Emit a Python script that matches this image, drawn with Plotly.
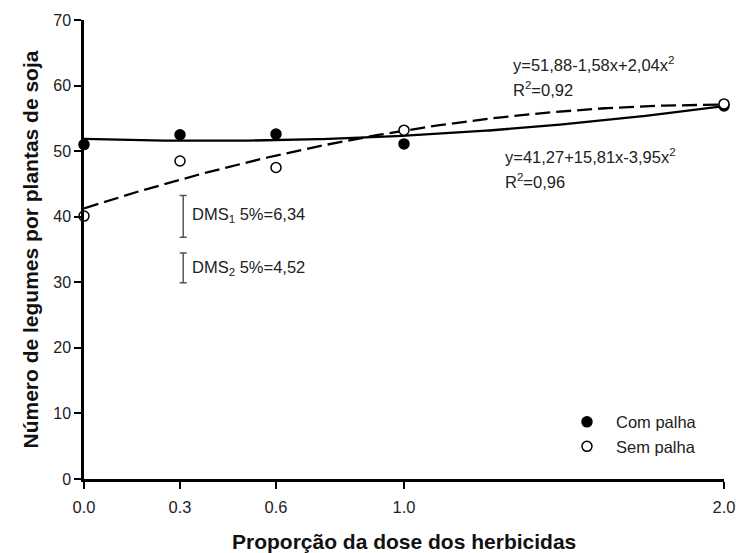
import numpy as np
import plotly.graph_objects as go

# Data
doses = [0.0, 0.3, 0.6, 1.0, 2.0]
com_palha = [51.0, 52.5, 52.6, 51.1, 56.9]
sem_palha = [40.1, 48.5, 47.5, 53.2, 57.2]
tick_vals = [0.0, 0.3, 0.6, 1.0, 2.0]
tick_text = ["0.0", "0.3", "0.6", "1.0", "2.0"]

# Regression coefficients (as shown on the chart)
coef_com = [51.88, -1.58, 2.04]
coef_sem = [41.27, 15.81, -3.95]

# DMS bars (centre, half length)
dms_x = [0.31, 0.31]
dms_center = [40.05, 32.2]
dms_half = [3.17, 2.26]

xs = np.linspace(0, 2, 200)
y_com = coef_com[0] + coef_com[1] * xs + coef_com[2] * xs ** 2
y_sem = coef_sem[0] + coef_sem[1] * xs + coef_sem[2] * xs ** 2

FONT = "Liberation Sans, Arial, sans-serif"

fig = go.Figure()
fig.add_trace(go.Scatter(x=xs, y=y_com, mode="lines", line=dict(color="black", width=2.3),
                         showlegend=False, hoverinfo="skip"))
fig.add_trace(go.Scatter(x=xs, y=y_sem, mode="lines",
                         line=dict(color="black", width=2.3, dash="15px,6px"),
                         showlegend=False, hoverinfo="skip"))
fig.add_trace(go.Scatter(x=dms_x, y=dms_center, mode="markers",
                         marker=dict(size=1, color="rgba(0,0,0,0)"),
                         error_y=dict(type="data", array=dms_half, visible=True,
                                      color="#555555", thickness=1.5, width=3.5),
                         showlegend=False, hoverinfo="skip"))
fig.add_trace(go.Scatter(x=doses, y=com_palha, mode="markers", name="Com palha",
                         marker=dict(size=10, color="black", line=dict(color="black", width=1.5)),
                         cliponaxis=False))
fig.add_trace(go.Scatter(x=doses, y=sem_palha, mode="markers", name="Sem palha",
                         marker=dict(size=10, color="white", line=dict(color="black", width=1.5)),
                         cliponaxis=False))

ann_font = dict(family=FONT, size=16.5, color="#222222")
annotations = [
    dict(x=0.33, y=40.3, text="DMS<sub>1</sub> 5%=6,34", xanchor="left", yanchor="middle", showarrow=False, font=ann_font),
    dict(x=0.33, y=32.2, text="DMS<sub>2</sub> 5%=4,52", xanchor="left", yanchor="middle", showarrow=False, font=ann_font),
    dict(x=1.334, y=63.3, text="y=51,88-1,58x+2,04x<sup>2</sup>", xanchor="left", yanchor="middle", showarrow=False, font=ann_font),
    dict(x=1.334, y=59.5, text="R<sup>2</sup>=0,92", xanchor="left", yanchor="middle", showarrow=False, font=ann_font),
    dict(x=1.309, y=49.3, text="y=41,27+15,81x-3,95x<sup>2</sup>", xanchor="left", yanchor="middle", showarrow=False, font=ann_font),
    dict(x=1.309, y=45.4, text="R<sup>2</sup>=0,96", xanchor="left", yanchor="middle", showarrow=False, font=ann_font),
    dict(x=0.5, xref="paper", y=-62 / 459, yref="paper", yanchor="middle", text="<b>Proporção da dose dos herbicidas</b>",
         showarrow=False, font=dict(family=FONT, size=21, color="#111111")),
    dict(x=-54 / 640, xref="paper", y=0.5, yref="paper", xanchor="center", yanchor="middle",
         text="<b>Número de legumes por plantas de soja</b>", textangle=-90,
         showarrow=False, font=dict(family=FONT, size=21, color="#111111")),
]

fig.update_layout(
    width=736, height=553,
    margin=dict(l=84, r=12, t=20, b=74, autoexpand=False),
    paper_bgcolor="white", plot_bgcolor="white",
    font=dict(family=FONT, size=16, color="#222222"),
    annotations=annotations,
    legend=dict(x=0.7406, y=0.162, xanchor="left", yanchor="top",
                font=dict(family=FONT, size=16.5, color="#222222"),
                bgcolor="rgba(0,0,0,0)", tracegroupgap=0, itemwidth=48),
)
fig.update_xaxes(range=[0, 2], tickvals=tick_vals, ticktext=tick_text, showgrid=False, zeroline=False,
                 showline=True, linecolor="black", linewidth=2.5, ticks="outside", ticklen=7,
                 tickwidth=2, tickcolor="black", tickfont=dict(size=16.5), ticklabelstandoff=4,
                 automargin=False, fixedrange=True)
fig.update_yaxes(range=[0, 70], dtick=10, showgrid=False, zeroline=False,
                 showline=True, linecolor="black", linewidth=2.5, ticks="outside", ticklen=7,
                 tickwidth=2, tickcolor="black", tickfont=dict(size=16), automargin=False,
                 fixedrange=True)

# Remove the default 8px page margin so the 736x553 figure fills the window exactly.
fig.write_html("out.html", config={"displayModeBar": False},
               post_script="document.body.style.margin='0';")
